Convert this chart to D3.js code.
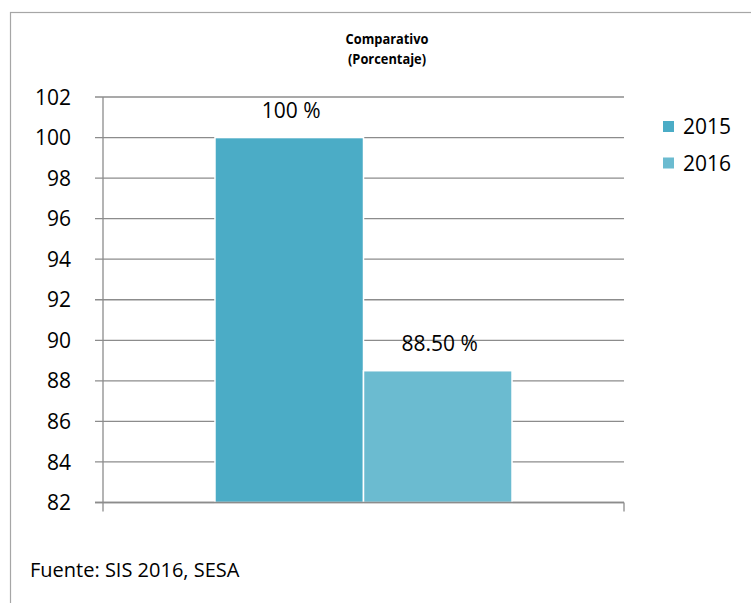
<!DOCTYPE html>
<html><head><meta charset="utf-8">
<script src="https://cdn.jsdelivr.net/npm/d3@7"></script>
<style>body{margin:0;background:#fff}svg{display:block}text{font-family:"Open Sans",sans-serif}</style>
</head><body>
<svg id="c" width="751" height="603"></svg>
<script>
const categories = [""];
const seriesNames = ["2015", "2016"];
const values2015 = [100];
const values2016 = [88.5];
const valueLabels = ["100 %", "88.50 %"];
const yTicks = [82, 84, 86, 88, 90, 92, 94, 96, 98, 100, 102];
const colors = ["#4bacc6", "#6bbbd0"];
const titleLines = ["Comparativo", "(Porcentaje)"];
const sourceText = "Fuente: SIS 2016, SESA";

const svg = d3.select("#c");
svg.append("rect").attr("x", 10.5).attr("y", 12.5).attr("width", 800).attr("height", 700)
  .attr("fill", "none").attr("stroke", "#a6a6a6").attr("stroke-width", 1.2);

const L = 103, R = 624, T = 97, B = 502.5;
const y = d3.scaleLinear().domain([82, 102]).range([B, T]);
const x0 = d3.scaleBand().domain(categories).range([L, R]).paddingInner(0).paddingOuter(0.377);
const x1 = d3.scaleBand().domain(seriesNames).range([0, x0.bandwidth()]).padding(0);

const grid = "#8c8c8c";
const g = svg.append("g");
g.selectAll("line.grid").data(yTicks).join("line")
  .attr("x1", L - 8).attr("x2", R).attr("y1", d => y(d)).attr("y2", d => y(d))
  .attr("stroke", grid).attr("stroke-width", 1.3);
g.append("line").attr("x1", L).attr("x2", L).attr("y1", T).attr("y2", B + 9)
  .attr("stroke", grid).attr("stroke-width", 1.3);
g.append("line").attr("x1", R).attr("x2", R).attr("y1", B).attr("y2", B + 9)
  .attr("stroke", grid).attr("stroke-width", 1.3);
g.selectAll("text.tick").data(yTicks).join("text")
  .attr("x", 71).attr("y", d => y(d)).attr("dy", "0.36em")
  .attr("text-anchor", "end").attr("font-size", 21).attr("fill", "#000").text(d => d);

const data = seriesNames.map((s, i) => ({ s, v: [values2015, values2016][i][0], label: valueLabels[i], c: colors[i] }));
svg.selectAll("rect.bar").data(data).join("rect")
  .attr("x", d => x0(categories[0]) + x1(d.s))
  .attr("y", d => y(d.v))
  .attr("width", x1.bandwidth())
  .attr("height", d => y(82) - y(d.v))
  .attr("fill", d => d.c).attr("stroke", "#fff").attr("stroke-width", 1.5);
svg.append("line").attr("x1", L - 8).attr("x2", R).attr("y1", B).attr("y2", B)
  .attr("stroke", grid).attr("stroke-width", 1.3);

svg.selectAll("text.val").data(data).join("text")
  .attr("x", d => x0(categories[0]) + x1(d.s) + x1.bandwidth() / 2 + 2)
  .attr("y", d => y(d.v) - 20)
  .attr("text-anchor", "middle").attr("font-size", 21).attr("fill", "#000").text(d => d.label);

svg.selectAll("text.title").data(titleLines).join("text")
  .attr("x", 387).attr("y", (d, i) => 44 + i * 19.5).attr("text-anchor", "middle")
  .attr("font-size", 13.5).attr("font-weight", "bold").attr("fill", "#000")
  .attr("textLength", (d, i) => i === 0 ? 83 : 78).attr("lengthAdjust", "spacingAndGlyphs")
  .text(d => d);

const lg = svg.selectAll("g.leg").data(data).join("g")
  .attr("transform", (d, i) => `translate(663,${121 + i * 36.5})`);
lg.append("rect").attr("width", 11).attr("height", 11).attr("fill", d => d.c);
lg.append("text").attr("x", 20).attr("y", 5.5).attr("dy", "0.36em").attr("font-size", 21)
  .attr("fill", "#000").text(d => d.s);

svg.append("text").attr("x", 30).attr("y", 577).attr("font-size", 20).attr("fill", "#000").text(sourceText);
</script>
</body></html>
